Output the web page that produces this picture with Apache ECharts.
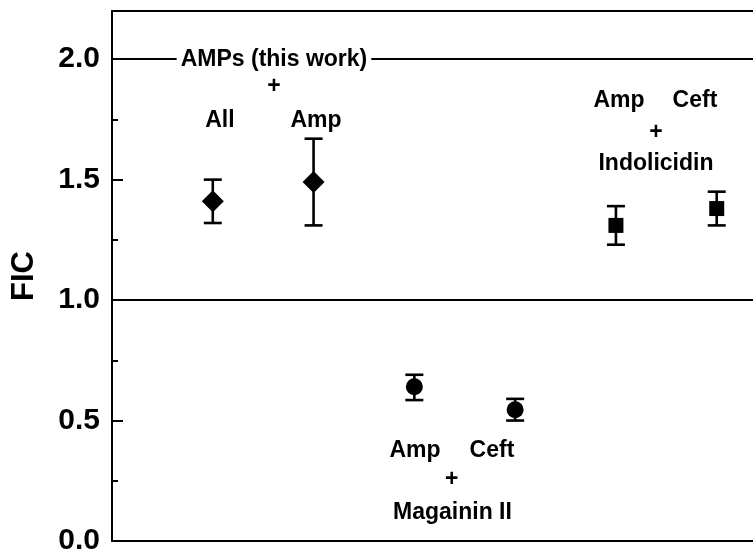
<!DOCTYPE html>
<html>
<head>
<meta charset="utf-8">
<script src="https://cdn.jsdelivr.net/npm/echarts@6/dist/echarts.min.js"></script>
<style>
  html, body { margin: 0; padding: 0; background: #fff; }
  #chart { width: 753px; height: 551px; }
</style>
</head>
<body>
<div id="chart"></div>
<script>
// ---- data ----
const categories = ['All', 'Amp', 'Amp', 'Ceft', 'Amp', 'Ceft'];
const groups = ['AMPs (this work)', 'AMPs (this work)', 'Magainin II', 'Magainin II', 'Indolicidin', 'Indolicidin'];
const xIndex = [1, 2, 3, 4, 5, 6];
const ficValues = [1.41, 1.49, 0.64, 0.545, 1.31, 1.38];
const errLower = [1.32, 1.31, 0.585, 0.50, 1.23, 1.31];
const errUpper = [1.50, 1.67, 0.69, 0.59, 1.39, 1.45];
const yTicks = [0.0, 0.5, 1.0, 1.5, 2.0];
const refLines = [1.0, 2.0];
// annotation texts: [x, y, text]
const annotations = [
  [1.607, 2.0, 'AMPs (this work)'],
  [1.607, 1.884, '+'],
  [1.071, 1.746, 'All'],
  [2.024, 1.746, 'Amp'],
  [3.006, 0.375, 'Amp'],
  [3.770, 0.375, 'Ceft'],
  [3.370, 0.254, '+'],
  [3.378, 0.116, 'Magainin II'],
  [5.030, 1.828, 'Amp'],
  [5.784, 1.828, 'Ceft'],
  [5.397, 1.696, '+'],
  [5.397, 1.567, 'Indolicidin']
];

const markerSeries = [
  { idx: [0, 1], symbol: 'diamond', size: [22, 22] },
  { idx: [2, 3], symbol: 'circle', size: 17 },
  { idx: [4, 5], symbol: 'rect', size: 15 }
];

const chart = echarts.init(document.getElementById('chart'), null, { renderer: 'canvas' });

const series = [];
series.push({
  type: 'custom',
  name: 'errors',
  z: 3,
  silent: true,
  data: xIndex.map((x, i) => [x, errLower[i], errUpper[i]]),
  renderItem: function (params, api) {
    const x = api.value(0);
    const pLo = api.coord([x, api.value(1)]);
    const pHi = api.coord([x, api.value(2)]);
    const hw = 9;
    const st = { stroke: '#000', lineWidth: 2.6 };
    return {
      type: 'group',
      children: [
        { type: 'line', shape: { x1: pLo[0], y1: pLo[1], x2: pHi[0], y2: pHi[1] }, style: st },
        { type: 'line', shape: { x1: pLo[0] - hw, y1: pLo[1], x2: pLo[0] + hw, y2: pLo[1] }, style: st },
        { type: 'line', shape: { x1: pHi[0] - hw, y1: pHi[1], x2: pHi[0] + hw, y2: pHi[1] }, style: st }
      ]
    };
  },
  markLine: {
    silent: true,
    symbol: 'none',
    label: { show: false },
    lineStyle: { color: '#000', width: 2, type: 'solid', opacity: 1 },
    data: refLines.map(v => ({ yAxis: v }))
  }
});

markerSeries.forEach(m => {
  series.push({
    type: 'scatter',
    z: 4,
    symbol: m.symbol,
    symbolSize: m.size,
    itemStyle: { color: '#000', opacity: 1 },
    silent: true,
    data: m.idx.map(i => [xIndex[i], ficValues[i]])
  });
});

series.push({
  type: 'custom',
  name: 'annotations',
  z: 10,
  silent: true,
  data: annotations,
  renderItem: function (params, api) {
    const p = api.coord([api.value(0), api.value(1)]);
    const txt = annotations[params.dataIndex][2];
    const isHeader = txt === 'AMPs (this work)';
    return {
      type: 'text',
      x: p[0],
      y: p[1],
      style: {
        text: txt,
        fontFamily: 'Liberation Sans',
        fontWeight: 'bold',
        fontSize: 23,
        fill: '#000',
        align: 'center',
        verticalAlign: 'middle',
        backgroundColor: isHeader ? '#fff' : null,
        padding: isHeader ? [0, 4, 0, 4] : 0
      }
    };
  }
});

chart.setOption({
  animation: false,
  backgroundColor: '#fff',
  grid: { left: 112, right: 0, top: 11, bottom: 10, outerBoundsMode: 'none', containLabel: false },
  xAxis: [
    {
      type: 'value', min: 0, max: 6.36, position: 'bottom',
      axisLine: { show: true, onZero: false, lineStyle: { color: '#000', width: 2 } },
      axisTick: { show: false }, axisLabel: { show: false }, splitLine: { show: false }
    },
    {
      type: 'value', min: 0, max: 6.36, position: 'top',
      axisLine: { show: true, onZero: false, lineStyle: { color: '#000', width: 2 } },
      axisTick: { show: false }, axisLabel: { show: false }, splitLine: { show: false }
    }
  ],
  yAxis: [
    {
      type: 'value', min: 0, max: 2.2, interval: 0.5, position: 'left',
      name: 'FIC', nameLocation: 'middle', nameGap: 72, nameRotate: 90,
      nameTextStyle: { fontFamily: 'Liberation Sans', fontWeight: 'bold', fontSize: 31, color: '#000' },
      axisLine: { show: true, onZero: false, lineStyle: { color: '#000', width: 2 } },
      axisTick: { show: true, inside: true, length: 11, lineStyle: { color: '#000', width: 2 } },
      axisLabel: {
        show: true, margin: 12, showMaxLabel: false,
        fontFamily: 'Liberation Sans', fontWeight: 'bold', fontSize: 30, color: '#000',
        formatter: v => (yTicks.indexOf(v) >= 0 ? v.toFixed(1) : '')
      },
      splitLine: { show: false }
    },
    {
      type: 'value', min: 0, max: 2.2, interval: 0.25, position: 'left',
      axisLine: { show: false },
      axisTick: { show: true, inside: true, length: 6, lineStyle: { color: '#000', width: 2 } },
      axisLabel: { show: false },
      splitLine: { show: false }
    }
  ],
  series: series
});
</script>
</body>
</html>
